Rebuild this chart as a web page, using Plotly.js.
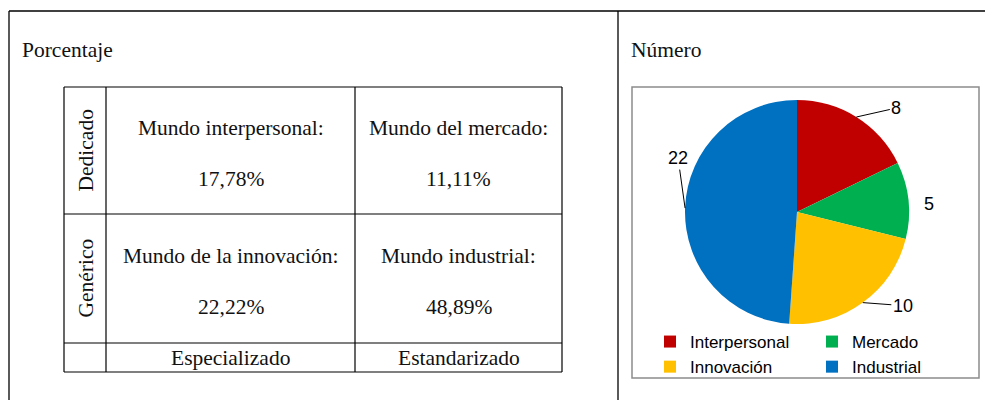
<!DOCTYPE html>
<html>
<head>
<meta charset="utf-8">
<script src="https://cdn.plot.ly/plotly-3.0.1.min.js"></script>
<style>html,body{margin:0;padding:0;background:#fff;}#chart{width:985px;height:400px;}</style>
</head>
<body>
<div id="chart"></div>
<script>
// ---- data ----
const categories = ['Interpersonal', 'Mercado', 'Innovación', 'Industrial'];
const counts = [8, 5, 10, 22];
const colors = ['#C00000', '#00B050', '#FFC000', '#0070C0'];
const cellTitles = ['Mundo interpersonal:', 'Mundo del mercado:', 'Mundo de la innovación:', 'Mundo industrial:'];
const cellPercents = ['17,78%', '11,11%', '22,22%', '48,89%'];
const rowLabels = ['Dedicado', 'Genérico'];
const colLabels = ['Especializado', 'Estandarizado'];
const leftTitle = 'Porcentaje';
const rightTitle = 'Número';

// ---- geometry (pixels) ----
const W = 985, H = 400;
// plot area restricted to the pie panel so the legend wraps two per row
const ML = 650, MR = 0, MT = 0, MB = 0;
const GW = W - ML - MR, GH = H - MT - MB;
const px = x => (x - ML) / GW;
const py = y => 1 - (y - MT) / GH;
const serif = 'Liberation Serif, Times New Roman, serif';
const sans = 'Liberation Sans, Arial, sans-serif';
const serifSize = 21.5;

const tblX = [64, 106, 355, 562];
const tblY = [87, 214, 343, 372];

const shapes = [];
const annotations = [];
function line(x0, y0, x1, y1, color, w) {
  shapes.push({type: 'line', xref: 'paper', yref: 'paper', x0: px(x0), y0: py(y0), x1: px(x1), y1: py(y1),
    line: {color: color, width: w}});
}
// outer frame
line(9, 11, 985, 11, '#000', 1.3);
line(9, 11, 9, 400, '#000', 1.3);
line(618, 11, 618, 400, '#000', 1.3);
// table grid
tblY.forEach(y => line(tblX[0], y, tblX[3], y, '#000', 1.2));
tblX.forEach(x => line(x, tblY[0], x, tblY[3], '#000', 1.2));
// pie box
shapes.push({type: 'rect', xref: 'paper', yref: 'paper', x0: px(632), y0: py(378), x1: px(979), y1: py(87),
  line: {color: '#8c8c8c', width: 1.5}});

function txt(x, y, text, opts) {
  annotations.push(Object.assign({xref: 'paper', yref: 'paper', x: px(x), y: py(y), text: text,
    xanchor: 'center', yanchor: 'middle',
    showarrow: false, font: {family: serif, size: serifSize, color: '#111'}}, opts || {}));
}
txt(20, 50, leftTitle, {xanchor: 'left'});
txt(629, 50, rightTitle, {xanchor: 'left'});

for (let r = 0; r < 2; r++) {
  const yc = (tblY[r] + tblY[r + 1]) / 2;
  txt((tblX[0] + tblX[1]) / 2, yc, rowLabels[r], {textangle: -90});
  for (let c = 0; c < 2; c++) {
    const xc = (tblX[c + 1] + tblX[c + 2]) / 2;
    const i = r * 2 + c;
    txt(xc, yc - 22.5, cellTitles[i]);
    txt(xc, yc + 28, cellPercents[i]);
  }
}
for (let c = 0; c < 2; c++) {
  txt((tblX[c + 1] + tblX[c + 2]) / 2, (tblY[2] + tblY[3]) / 2, colLabels[c]);
}

// ---- pie ----
const cx = 797, cy = 212, R = 112;
const total = counts.reduce((a, b) => a + b, 0);
const labelOffsets = [[40, -9], [21, 4], [40, 3], [-7, -50]];
const showLeader = [true, false, true, true];
let cum = 0;
counts.forEach((v, i) => {
  const mid = (cum + v / 2) / total * 2 * Math.PI;
  cum += v;
  const ex = cx + R * Math.sin(mid), ey = cy - R * Math.cos(mid);
  annotations.push({xref: 'paper', yref: 'paper', x: px(ex), y: py(ey), text: String(v),
    showarrow: true, arrowhead: 0, arrowwidth: 1, arrowcolor: showLeader[i] ? '#000' : 'rgba(0,0,0,0)',
    ax: labelOffsets[i][0], ay: labelOffsets[i][1], standoff: 0,
    font: {family: sans, size: 18, color: '#000'}});
});

const data = [{
  type: 'pie', labels: categories, values: counts, sort: false, direction: 'clockwise', rotation: 0,
  marker: {colors: colors, line: {width: 0}}, textinfo: 'none', hoverinfo: 'label+value',
  domain: {x: [px(cx - R), px(cx + R)], y: [py(cy + R), py(cy - R)]}
}];

const layout = {
  width: W, height: H, margin: {l: ML, r: MR, t: MT, b: MB, pad: 0, autoexpand: false},
  paper_bgcolor: '#fff', plot_bgcolor: '#fff',
  showlegend: true,
  legend: {orientation: 'h', x: px(650), y: py(324), xanchor: 'left', yanchor: 'top',
    entrywidth: 117, entrywidthmode: 'pixels', bgcolor: 'rgba(0,0,0,0)',
    font: {family: sans, size: 17, color: '#000'}, tracegroupgap: 0, itemclick: false},
  shapes: shapes, annotations: annotations
};
Plotly.newPlot('chart', data, layout, {staticPlot: true});
</script>
</body>
</html>
